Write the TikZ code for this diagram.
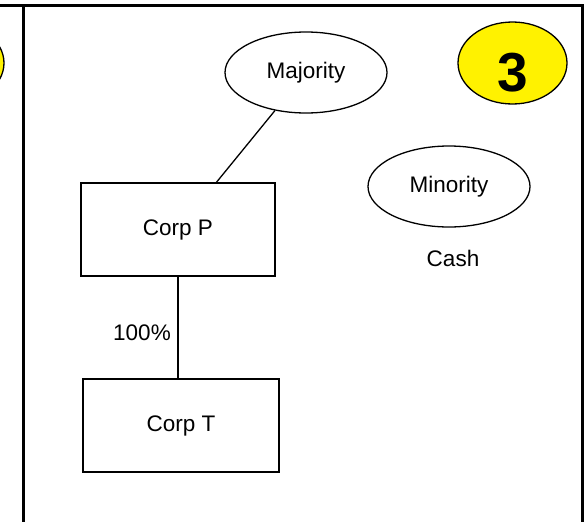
\documentclass[tikz,border=0pt]{standalone}
\usepackage{fontspec}
\setmainfont{Liberation Sans}
\usetikzlibrary{shapes.geometric}

\begin{document}
\begin{tikzpicture}[x=1pt,y=-1pt,
    lbl/.style={font=\fontsize{22.5}{27}\selectfont},
    corp/.style={lbl,draw,line width=1.3pt,minimum width=194pt,minimum height=93pt},
    holder/.style={lbl,draw,ellipse,line width=1.3pt,minimum width=162pt,minimum height=81pt,inner sep=0pt},
    badge/.style={draw,ellipse,fill=yellow,line width=1.3pt,minimum width=109pt,minimum height=82pt,inner sep=0pt}]
    \clip (0,0) rectangle (585,522);
    \fill[white] (0,0) rectangle (585,522);
    \draw[line width=3pt] (0,5.5) -- (582.5,5.5) -- (582.5,522);
    \draw[line width=3pt] (23.5,5.5) -- (23.5,522);

    \node[badge] (prev) at (-50.5,63) {};
    \node[badge] (badge3) at (512.5,63) {};
    \node[font=\bfseries\fontsize{55}{60}\selectfont] (num3) at (512.5,73) {3};

    \node[holder] (maj) at (306,72.5) {Majority};
    \node[holder] (mino) at (449,186.5) {Minority};
    \node[lbl] (cash) at (453,258) {Cash};
    \node[corp] (corpP) at (178,229.5) {Corp P};
    \node[corp,minimum width=196pt] (corpT) at (181,425.5) {Corp T};
    \node[lbl] (pct) at (142,333) {100\%};

    \draw[line width=1.3pt] (maj) -- (corpP);
    \draw[line width=1.3pt] (corpP.south) -- (corpP.south |- corpT.north);
\end{tikzpicture}
\end{document}
